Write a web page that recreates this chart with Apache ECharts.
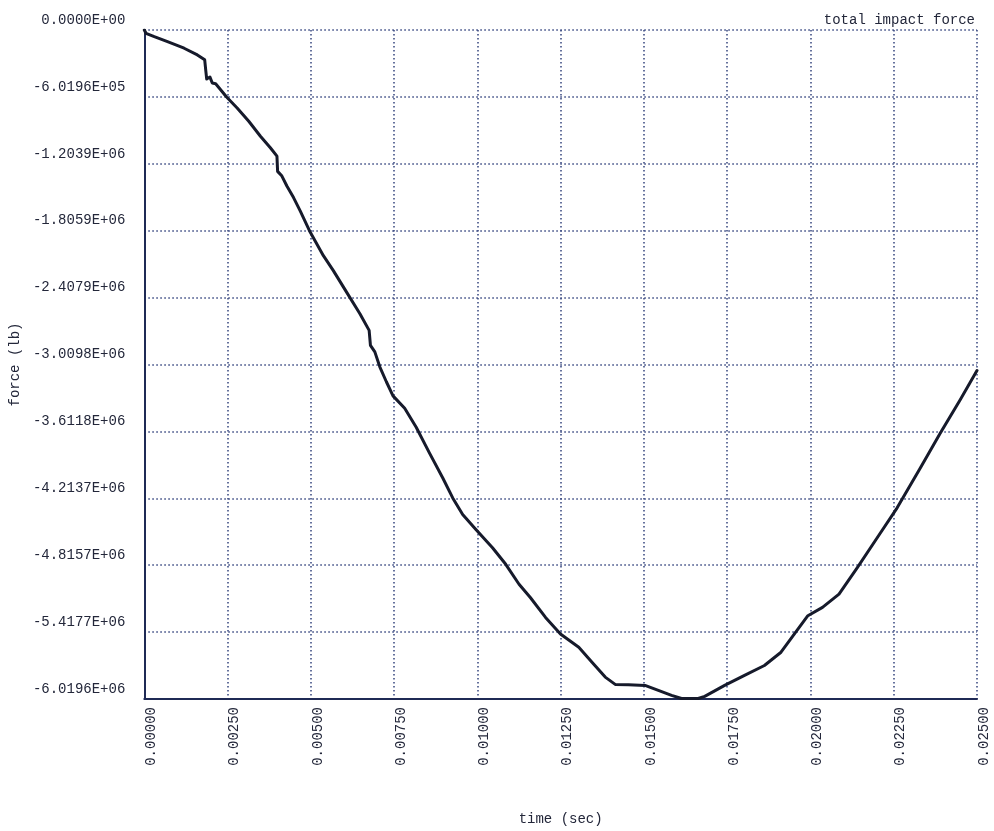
<!DOCTYPE html>
<html>
<head>
<meta charset="utf-8">
<script src="https://cdn.jsdelivr.net/npm/echarts@6/dist/echarts.min.js"></script>
<style>
html,body{margin:0;padding:0;background:#fff;}
#chart{width:994px;height:831px;}
</style>
</head>
<body>
<div id="chart"></div>
<script>
// time (sec)
var timeValues = [0, 0.00005, 0.000299, 0.000696, 0.001195, 0.001592, 0.001813, 0.001843, 0.001873, 0.001971, 0.002040, 0.002142, 0.002291, 0.002470, 0.002787, 0.003136, 0.003486, 0.003784, 0.003982, 0.004002, 0.004131, 0.004280, 0.004480, 0.004680, 0.004979, 0.005376, 0.005675, 0.006072, 0.006473, 0.006750, 0.006789, 0.006921, 0.007070, 0.007267, 0.007467, 0.007817, 0.008163, 0.008563, 0.008961, 0.009259, 0.009558, 0.009955, 0.010454, 0.010851, 0.011251, 0.011589, 0.012046, 0.012494, 0.013044, 0.013441, 0.013838, 0.014137, 0.014537, 0.015033, 0.015433, 0.015830, 0.016129, 0.016628, 0.016825, 0.017423, 0.018020, 0.018617, 0.019116, 0.019513, 0.019922, 0.020361, 0.020857, 0.021407, 0.022004, 0.022602, 0.023298, 0.023895, 0.024492, 0.025];
// force (lb)
var forceValues = [0, -29600, -60000, -104800, -163900, -224000, -268700, -358300, -441600, -423700, -477500, -483700, -537500, -602900, -701400, -821400, -955800, -1059700, -1135000, -1272000, -1314100, -1403700, -1507600, -1627700, -1818500, -2030800, -2165100, -2358600, -2553000, -2702600, -2837000, -2896100, -3030500, -3164900, -3292100, -3404000, -3574200, -3807200, -4031100, -4210300, -4359800, -4494200, -4658200, -4807600, -4986800, -5106100, -5285200, -5434800, -5554000, -5688300, -5822700, -5888100, -5891700, -5897100, -5941900, -5986600, -6015300, -6015300, -5995600, -5897100, -5807400, -5717900, -5598800, -5434800, -5270000, -5195600, -5076500, -4837300, -4568600, -4299800, -3941500, -3628000, -3329700, -3063400];

var yTickLabels = ['0.0000E+00','-6.0196E+05','-1.2039E+06','-1.8059E+06','-2.4079E+06','-3.0098E+06','-3.6118E+06','-4.2137E+06','-4.8157E+06','-5.4177E+06','-6.0196E+06'];
var xTickLabels = ['0.00000','0.00250','0.00500','0.00750','0.01000','0.01250','0.01500','0.01750','0.02000','0.02250','0.02500'];
var yStep = 601960, yMin = -6019600;
var xStep = 0.0025, xMax = 0.025;

var seriesData = timeValues.map(function(t, i){ return [t, forceValues[i]]; });

var fontFam = '"Liberation Mono", "DejaVu Sans Mono", monospace';
var textColor = '#23273a';
var gridColor = '#34447e';
var axisColor = '#1f2a55';

var chart = echarts.init(document.getElementById('chart'));
chart.setOption({
  backgroundColor: '#ffffff',
  animation: false,
  title: {
    text: 'total impact force',
    right: 14,
    top: 8,
    textStyle: {fontFamily: fontFam, fontSize: 14, fontWeight: 'normal', color: textColor}
  },
  grid: {left: 140, top: 30, right: 17, bottom: 129, containLabel: false},
  xAxis: {
    type: 'value',
    min: 0, max: xMax, interval: xStep,
    name: 'time (sec)',
    nameLocation: 'middle',
    nameGap: 113,
    nameTextStyle: {fontFamily: fontFam, fontSize: 14, color: textColor},
    axisLine: {show: true, onZero: false, lineStyle: {color: axisColor, width: 2}},
    axisTick: {show: false},
    splitLine: {show: true, lineStyle: {color: gridColor, width: 1.5, type: [1.5, 2.5]}},
    axisLabel: {
      rotate: 90, margin: 8, verticalAlign: 'top',
      fontFamily: fontFam, fontSize: 14, color: textColor,
      formatter: function(v){ var i = Math.round(v / xStep); return xTickLabels[i] || ''; }
    }
  },
  yAxis: {
    type: 'value',
    min: yMin, max: 0, interval: yStep,
    name: 'force (lb)',
    nameLocation: 'middle',
    nameGap: 116,
    nameTextStyle: {fontFamily: fontFam, fontSize: 14, color: textColor},
    axisLine: {show: true, onZero: false, lineStyle: {color: axisColor, width: 2}},
    axisTick: {show: false},
    splitLine: {show: true, lineStyle: {color: gridColor, width: 1.5, type: [1.5, 2.5]}},
    axisLabel: {
      margin: 19, verticalAlign: 'bottom', padding: [0, 0, 3, 0],
      fontFamily: fontFam, fontSize: 14, color: textColor,
      formatter: function(v){ var i = Math.round(-v / yStep); return yTickLabels[i] || ''; }
    }
  },
  series: [{
    type: 'line',
    data: seriesData,
    showSymbol: false,
    smooth: false,
    lineStyle: {color: '#161a2b', width: 3, join: 'round', cap: 'round'},
    z: 5
  }]
});
</script>
</body>
</html>
